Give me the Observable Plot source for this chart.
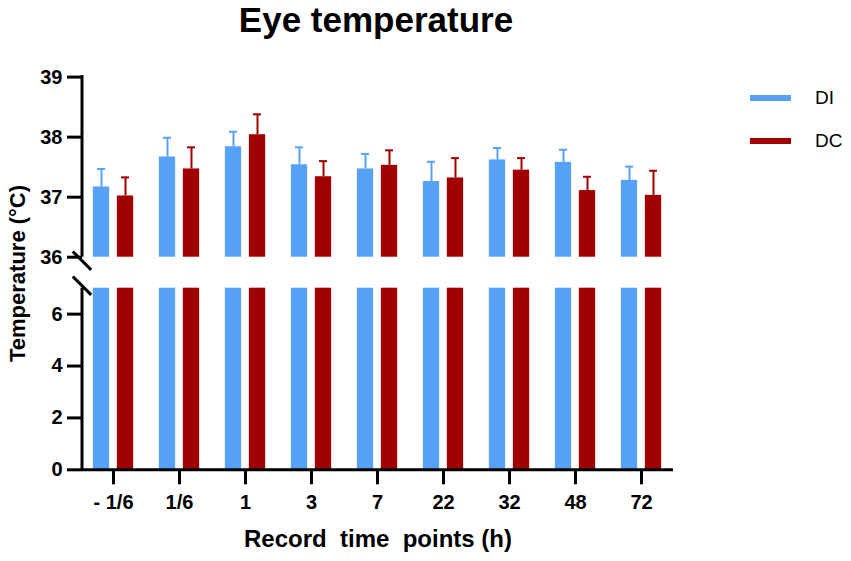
<!DOCTYPE html>
<html>
<head>
<meta charset="utf-8">
<script src="https://cdn.jsdelivr.net/npm/d3@7"></script>
<script src="https://cdn.jsdelivr.net/npm/@observablehq/plot@0.6"></script>
<style>
  body { margin: 0; background: #fff; font-family: "Liberation Sans", Arial, sans-serif; }
  #wrap { position: relative; width: 851px; height: 561px; overflow: hidden; }
  #title { height: 55px; position: relative; }
  #title span { position: absolute; left: 0; top: 2px; width: 752px; text-align: center;
    font-weight: bold; font-size: 35px; line-height: 35px; color: #000; }
  .lg { position: absolute; left: 750px; height: 22px; display: flex; align-items: center; }
  .lg .sw { width: 41px; height: 6px; }
  .lg .tx { margin-left: 24px; font-size: 19px; color: #000; }
  svg { display: block; }
</style>
</head>
<body>
<div id="wrap">
  <div id="title"><span>Eye temperature</span></div>
  <div id="chart"></div>
  <div id="legend"></div>
</div>
<script>
// ---- data ----
const times = ["- 1/6", "1/6", "1", "3", "7", "22", "32", "48", "72"];
const groups = ["DI", "DC"];
const groupColors = ["#57a1f8", "#a00000"];
const diMean = [37.17, 37.67, 37.84, 37.54, 37.47, 37.26, 37.62, 37.58, 37.28];
const diSD   = [0.30, 0.32, 0.25, 0.29, 0.25, 0.33, 0.20, 0.21, 0.23];
const dcMean = [37.02, 37.47, 38.04, 37.34, 37.53, 37.32, 37.45, 37.11, 37.03];
const dcSD   = [0.31, 0.36, 0.34, 0.26, 0.25, 0.33, 0.20, 0.23, 0.41];
const yTicks = [0, 2, 4, 6, 36, 37, 38, 39];
const lowTop = 7;      // top of lower axis segment
const highBottom = 36; // bottom of upper axis segment
const yMax = 39;

const rows = times.flatMap((t, i) => [
  {time: t, group: "DI", mean: diMean[i], sd: diSD[i]},
  {time: t, group: "DC", mean: dcMean[i], sd: dcSD[i]}
]);

// ---- layout ----
const step = 66.33, barW = 16.6, gap = 7.4, capW = 8.3;
const half = step / 2;
const off = {DI: -(gap / 2 + barW / 2), DC: (gap / 2 + barW / 2)};
function barInsets(g) {
  const c = off[g];
  return {insetLeft: half + c - barW / 2, insetRight: half - c - barW / 2};
}
function capInsets(g) {
  const c = off[g];
  return {insetLeft: half + c - capW / 2, insetRight: half - c - capW / 2};
}
const color = g => groupColors[groups.indexOf(g)];

function axisDecor(index, scales, values, dimensions) {
  const y = scales.y;
  const x0 = dimensions.marginLeft;
  const g = d3.create("svg:g").attr("stroke", "#000").attr("stroke-width", 3).attr("fill", "none");
  g.append("line").attr("x1", x0).attr("x2", x0).attr("y1", y(0) + 1.5).attr("y2", y(lowTop));
  g.append("line").attr("x1", x0).attr("x2", x0).attr("y1", y(highBottom)).attr("y2", y(yMax) - 1.5);
  const s = 9.2;
  [y(highBottom) + 4, y(lowTop) - 2].forEach(cy => {
    g.append("line").attr("x1", x0 - s).attr("y1", cy - s).attr("x2", x0 + s).attr("y2", cy + s);
  });
  return g.node();
}

const marks = [];
groups.forEach(g => {
  const data = rows.filter(d => d.group === g);
  marks.push(Plot.barY(data, {x: "time", y1: 0, y2: lowTop, fill: color(g), ...barInsets(g)}));
  marks.push(Plot.barY(data, {x: "time", y1: highBottom, y2: "mean", fill: color(g), ...barInsets(g)}));
  marks.push(Plot.ruleX(data, {x: "time", y1: "mean", y2: d => d.mean + d.sd, dx: off[g], stroke: color(g), strokeWidth: 2}));
  marks.push(Plot.tickY(data, {x: "time", y: d => d.mean + d.sd, stroke: color(g), strokeWidth: 2, ...capInsets(g)}));
});

const plot = Plot.plot({
  width: 851,
  height: 506,
  marginLeft: 82,
  marginRight: 178,
  marginTop: 21.6,
  marginBottom: 91.7,
  style: {fontFamily: "'Liberation Sans', Arial, sans-serif", fontWeight: "bold", fontSize: "20px", color: "#000", background: "#fff"},
  x: {type: "band", domain: times, range: [78.5, 675.5], padding: 0},
  y: {type: "linear", domain: [0, lowTop, highBottom, yMax], range: [414.3, 232.7, 201.7, 21.6]},
  marks: [
    ...marks,
    Plot.ruleY([0], {stroke: "#000", strokeWidth: 3}),
    axisDecor,
    Plot.axisY({ticks: yTicks, tickSize: 15, tickPadding: 5, strokeWidth: 3, tickFormat: d => String(d), label: null, fontSize: 20}),
    Plot.axisX({tickSize: 15, tickPadding: 10, strokeWidth: 3, label: null, fontSize: 20}),
    Plot.text(["Record\u00A0 time\u00A0 points (h)"], {text: d => d, frameAnchor: "bottom", dy: 77, fontSize: 24, fontWeight: "bold"}),
    Plot.text(["Temperature (°C)"], {text: d => d, frameAnchor: "left", textAnchor: "middle", rotate: -90, dx: -65, fontSize: 22, fontWeight: "bold"})
  ]
});
document.getElementById("chart").appendChild(plot);

// legend
const legend = document.getElementById("legend");
const legendTops = [87, 130];
groups.forEach((g, i) => {
  const item = document.createElement("div");
  item.className = "lg";
  item.style.top = legendTops[i] + "px";
  item.innerHTML = `<div class="sw" style="background:${groupColors[i]}"></div><div class="tx">${g}</div>`;
  legend.appendChild(item);
});
</script>
</body>
</html>
